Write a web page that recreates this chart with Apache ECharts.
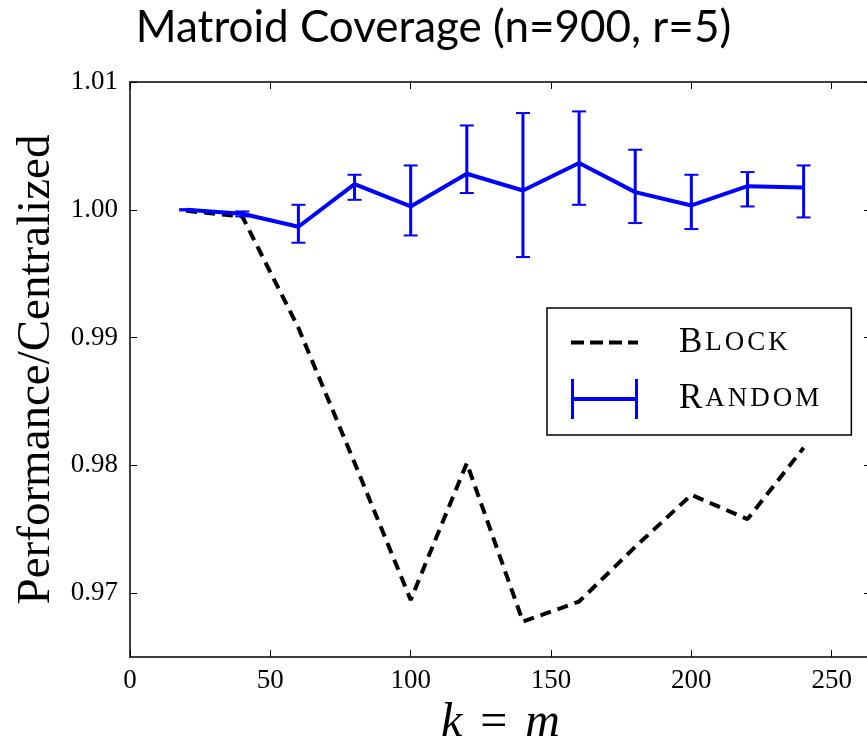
<!DOCTYPE html>
<html>
<head>
<meta charset="utf-8">
<title>Matroid Coverage</title>
<script src="https://cdn.jsdelivr.net/npm/echarts@6/dist/echarts.min.js"></script>
<style>
  html, body { margin: 0; padding: 0; background: #fff; }
  #chart { width: 867px; height: 737px; }
</style>
</head>
<body>
<div id="chart"></div>
<script>
// k = m values
const kValues = [20, 40, 60, 80, 100, 120, 140, 160, 180, 200, 220, 240]
// Block partition
const blockValues = [0.99992, 0.99948, 0.99076, 0.98020, 0.96947, 0.98017, 0.96777, 0.96934, 0.97362, 0.97769, 0.97579, 0.98137]
// Random partition (mean and error bar ends)
const randomValues = [1.00000, 0.99969, 0.99867, 1.00201, 1.00026, 1.00282, 1.00151, 1.00366, 1.00138, 1.00034, 1.00185, 1.00175]
const randomLow = [0.99995, 0.99948, 0.99742, 1.00078, 0.99799, 1.00131, 0.99630, 1.00039, 0.99896, 0.99849, 1.00026, 0.99940]
const randomHigh = [1.00005, 0.99987, 1.00039, 1.00274, 1.00347, 1.00660, 1.00757, 1.00770, 1.00470, 1.00274, 1.00295, 1.00347]
// tick labels
const xTicks = [0, 50, 100, 150, 200, 250]
const yTicks = [0.97, 0.98, 0.99, 1.00, 1.01]

const serif = 'Liberation Serif'

// 误差线
function renderErrorBar (params, api) {
  const x = api.value(0)
  const lo = api.coord([x, api.value(1)])
  const hi = api.coord([x, api.value(2)])
  const cap = 7
  const style = { stroke: '#0000ff', lineWidth: 3 }
  return {
    type: 'group',
    children: [
      { type: 'line', shape: { x1: lo[0], y1: lo[1], x2: hi[0], y2: hi[1] }, style },
      { type: 'line', shape: { x1: lo[0] - cap, y1: lo[1], x2: lo[0] + cap, y2: lo[1] }, style: { stroke: '#0000ff', lineWidth: 2 } },
      { type: 'line', shape: { x1: hi[0] - cap, y1: hi[1], x2: hi[0] + cap, y2: hi[1] }, style: { stroke: '#0000ff', lineWidth: 2 } }
    ]
  }
}

// 小型大写字母
function smallCaps (name) {
  const rest = name.slice(1).toUpperCase().split('').map(c => '{small|' + c + '}')
  return '{sp|}{big|' + name.charAt(0) + '}{g|}' + rest.join('{g|}')
}

const axisCommon = {
  axisLine: { show: true, onZero: false, lineStyle: { color: '#000', width: 1.5 } },
  axisTick: { show: true, inside: true, length: 7, lineStyle: { color: '#000', width: 1 } },
  splitLine: { show: false }
}

const chart = echarts.init(document.getElementById('chart'))
const option = {
  animation: false,
  backgroundColor: '#fff',
  title: {
    text: 'Matroid Coverage (n=900, r=5)',
    left: 'center',
    top: 1,
    textStyle: { fontFamily: 'Lato', fontSize: 44, fontWeight: 'normal', color: '#000' }
  },
  grid: { left: 130, top: 82, width: 741, height: 575, outerBoundsMode: 'none', containLabel: false },
  legend: {
    orient: 'vertical',
    left: 547,
    top: 308,
    padding: [17, 32, 16, 22],
    itemGap: 19,
    itemWidth: 67,
    itemHeight: 40,
    borderColor: '#000',
    borderWidth: 1.5,
    borderRadius: 0,
    backgroundColor: '#fff',
    data: [
      {
        name: 'Block',
        itemStyle: { color: 'transparent', borderColor: 'transparent', opacity: 0 },
        lineStyle: { color: '#000', width: 4, type: [13, 6] }
      },
      { name: 'Random', icon: 'path://M0,0 H3 V18 H64 V0 H67 V40 H64 V22 H3 V40 H0 Z' }
    ],
    formatter: smallCaps,
    textStyle: {
      color: '#000',
      fontFamily: serif,
      rich: {
        sp: { width: 36 },
        g: { width: 3 },
        big: { fontSize: 35, fontFamily: serif, color: '#000' },
        small: { fontSize: 27, fontFamily: serif, color: '#000' }
      }
    }
  },
  xAxis: [
    Object.assign({}, axisCommon, {
      type: 'value',
      min: 0,
      max: 264,
      position: 'bottom',
      axisTick: Object.assign({}, axisCommon.axisTick, { customValues: xTicks }),
      axisLabel: { customValues: xTicks, fontFamily: serif, fontSize: 27, color: '#000', margin: 10 },
      name: '{it|k}{sp|}={sp|}{it|m}',
      nameLocation: 'middle',
      nameGap: 41,
      nameTextStyle: {
        fontFamily: serif, fontSize: 48, color: '#000',
        rich: {
          it: { fontFamily: serif, fontSize: 48, fontStyle: 'italic', color: '#000' },
          sp: { width: 18 }
        }
      }
    }),
    Object.assign({}, axisCommon, {
      type: 'value',
      min: 0,
      max: 264,
      position: 'top',
      axisTick: Object.assign({}, axisCommon.axisTick, { customValues: xTicks }),
      axisLabel: { show: false }
    })
  ],
  yAxis: [
    Object.assign({}, axisCommon, {
      type: 'value',
      min: 0.965,
      max: 1.01,
      position: 'left',
      axisTick: Object.assign({}, axisCommon.axisTick, { customValues: yTicks }),
      axisLabel: {
        customValues: yTicks,
        formatter: v => v.toFixed(2),
        fontFamily: serif, fontSize: 27, color: '#000', margin: 12
      },
      name: 'Performance/Centralized',
      nameLocation: 'middle',
      nameGap: 64,
      nameTextStyle: { fontFamily: serif, fontSize: 47, color: '#000' }
    }),
    Object.assign({}, axisCommon, {
      type: 'value',
      min: 0.965,
      max: 1.01,
      position: 'right',
      axisTick: Object.assign({}, axisCommon.axisTick, { customValues: yTicks }),
      axisLabel: { show: false }
    })
  ],
  series: [
    {
      name: 'Block',
      type: 'line',
      data: kValues.map((k, i) => [k, blockValues[i]]),
      symbol: 'none',
      color: '#000',
      lineStyle: { color: '#000', width: 4, type: [11, 7] },
      z: 2
    },
    {
      name: 'Random',
      type: 'line',
      data: kValues.map((k, i) => [k, randomValues[i]]),
      symbol: 'none',
      color: '#0000ff',
      lineStyle: { color: '#0000ff', width: 4 },
      z: 3
    },
    {
      name: 'Random error',
      type: 'custom',
      renderItem: renderErrorBar,
      data: kValues.map((k, i) => [k, randomLow[i], randomHigh[i]]),
      z: 4
    }
  ]
}
chart.setOption(option)
</script>
</body>
</html>
